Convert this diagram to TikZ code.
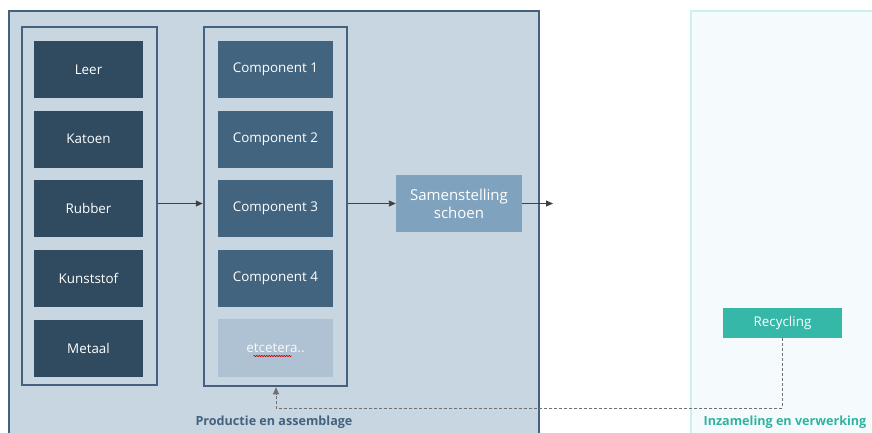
\documentclass[tikz,border=0pt]{standalone}
\usepackage{fontspec}
\setmainfont{Open Sans}
\usetikzlibrary{arrows.meta,decorations.pathmorphing}
\definecolor{panelfill}{HTML}{C8D6E1}
\definecolor{panelline}{HTML}{44627F}
\definecolor{matfill}{HTML}{304B5F}
\definecolor{compfill}{HTML}{42647F}
\definecolor{etcfill}{HTML}{AEC2D3}
\definecolor{asmfill}{HTML}{7FA3BE}
\definecolor{recfill}{HTML}{36B8A9}
\definecolor{rpanelfill}{HTML}{F5FBFC}
\definecolor{rpanelline}{HTML}{CCF2F0}
\definecolor{tealtext}{HTML}{2DB3A3}
\definecolor{arrowgray}{HTML}{404040}
\definecolor{dashgray}{HTML}{707070}
\tikzset{
  boxbase/.style={draw=none, anchor=center, inner sep=0pt, text=white, font=\fontsize{13.4}{15}\selectfont, align=center},
  matbox/.style={boxbase, fill=matfill, minimum width=109pt, minimum height=57pt},
  compbox/.style={boxbase, fill=compfill, minimum width=115pt, minimum height=57pt},
  etcbox/.style={boxbase, fill=etcfill, minimum width=115pt, minimum height=58pt},
  asmbox/.style={boxbase, fill=asmfill, minimum width=126pt, minimum height=57pt, font=\fontsize{15}{19}\selectfont},
  recbox/.style={boxbase, fill=recfill, minimum width=119pt, minimum height=30pt},
  groupbox/.style={draw=panelline, line width=2.5pt, fill=panelfill},
  flow/.style={draw=arrowgray, line width=0.9pt, -{Triangle[length=7pt,width=6pt]}},
  backflow/.style={draw=dashgray, line width=0.9pt, dash pattern=on 3pt off 2pt, -{Triangle[length=7pt,width=6pt]}},
  paneltitle/.style={font=\fontsize{12.6}{14}\selectfont\bfseries, anchor=center}
}
\begin{document}
\begin{tikzpicture}[x=1pt,y=-1pt]
\useasboundingbox (0,0) rectangle (872,432);
\begin{scope}
\clip (0,0) rectangle (872,432);
% panels
\draw[draw=panelline, line width=2pt, fill=panelfill] (9,11) rectangle (539,460);
\draw[draw=rpanelline, line width=1.5pt, fill=rpanelfill] (691,11) rectangle (900,460);
\end{scope}
% groups
\node[groupbox, minimum width=135pt, minimum height=358pt, inner sep=0pt] (mats) at (89.5,206) {};
\node[groupbox, minimum width=143pt, minimum height=359pt, inner sep=0pt] (comps) at (275.5,206.5) {};
% materials
\node[matbox] (leer) at (88.5,69.5) {Leer};
\node[matbox] (katoen) at (88.5,139) {Katoen};
\node[matbox] (rubber) at (88.5,208.5) {Rubber};
\node[matbox] (kunst) at (88.5,278) {Kunststof};
\node[matbox] (metaal) at (88.5,348) {Metaal};
% components
\node[compbox] (c1) at (275.5,69.5) {Component 1};
\node[compbox] (c2) at (275.5,139) {Component 2};
\node[compbox] (c3) at (275.5,208.5) {Component 3};
\node[compbox] (c4) at (275.5,278) {Component 4};
\node[etcbox, text=white!92!etcfill] (etc) at (275.5,348) {etcetera..};
\draw[red!80!black, line width=0.6pt, decorate, decoration={snake, amplitude=0.7pt, segment length=2.5pt}]
  ([xshift=-22pt,yshift=-8pt]etc.center) -- ([xshift=16pt,yshift=-8pt]etc.center);
% assembly
\node[asmbox] (asm) at (459,203.5) {Samenstelling\\[-1pt]schoen};
% recycling
\node[recbox] (rec) at (782.5,323) {Recycling};
% arrows
\coordinate (out) at (553,203.5);
\draw[flow] (mats.east |- 0,203.5) -- (comps.west |- 0,203.5);
\draw[flow] (comps.east |- 0,203.5) -- (asm.west);
\draw[flow] (asm.east) -- (out);
\coordinate (bend1) at (782.5,408);
\coordinate (bend2) at (276,408);
\draw[backflow] (rec.south) -- (bend1) -- (bend2) -- (comps.south -| bend2);
% titles
\node[paneltitle, text=panelline] (t1) at (274,422) {Productie en assemblage};
\node[paneltitle, text=tealtext] (t2) at (785,422) {Inzameling en verwerking};
\end{tikzpicture}
\end{document}
